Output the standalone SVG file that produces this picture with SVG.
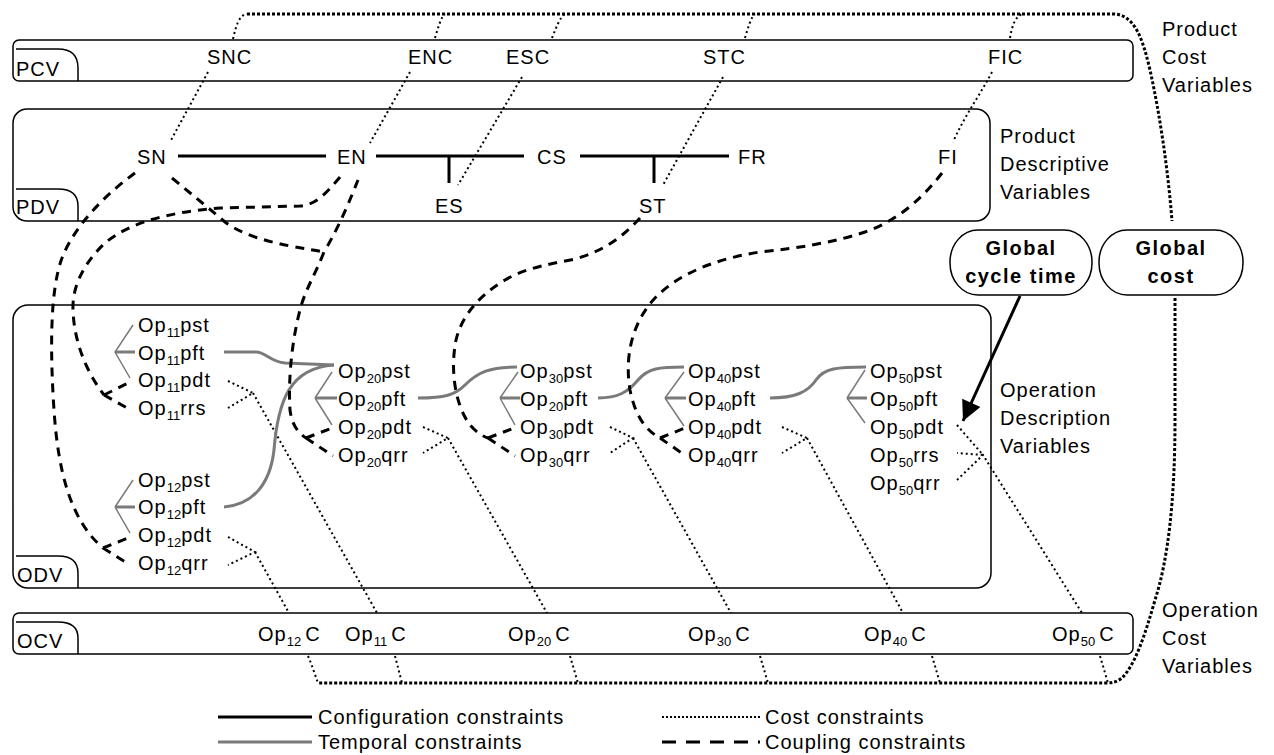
<svg xmlns="http://www.w3.org/2000/svg" width="1274" height="755" viewBox="0 0 1274 755">
<style>
.box{fill:none;stroke:#000;stroke-width:1.5}
.t{font-family:"Liberation Sans",Arial,sans-serif;font-size:20px;letter-spacing:1px;fill:#000}
.sub{font-size:13px;letter-spacing:0}
.b{font-weight:bold;letter-spacing:1.5px;text-anchor:middle}
.cfg{stroke:#000;stroke-width:3;fill:none}
.tmp{stroke:#7a7a7a;stroke-width:3;fill:none}
.tmpf{stroke:#7a7a7a;stroke-width:1.5;fill:none}
.cost{stroke:#000;stroke-width:2;stroke-dasharray:2 3;fill:none}
.bus{stroke:#000;stroke-width:3;stroke-dasharray:3 2;fill:none}
.cpl{stroke:#000;stroke-width:3;stroke-dasharray:9 7;fill:none}
.arw{stroke:#000;stroke-width:3;fill:none}
</style>
<defs>
<marker id="ah" viewBox="0 0 10 10" refX="10" refY="5" markerWidth="22" markerHeight="20" markerUnits="userSpaceOnUse" orient="auto"><path d="M0,0 L10,5 L0,10 z" fill="#000"/></marker>
</defs>
<rect width="1274" height="755" fill="#fff"/>

<g id="PCV"><rect class="box" x="13" y="40" width="1120" height="41" rx="6"/><path class="box" d="M16,49 H58 Q78,49 78,68 V81"/><text class="t" x="16" y="76">PCV</text></g>
<g id="PDV"><rect class="box" x="13" y="109" width="977" height="112" rx="14"/><path class="box" d="M16,189 H58 Q78,189 78,206 V221"/><text class="t" x="16" y="214">PDV</text></g>
<g id="ODV"><rect class="box" x="13" y="305" width="978" height="283" rx="15"/><path class="box" d="M16,556 H58 Q78,556 78,573 V588"/><text class="t" x="17" y="582">ODV</text></g>
<g id="OCV"><rect class="box" x="13" y="613" width="1120" height="41" rx="6"/><path class="box" d="M16,622 H58 Q78,622 78,638 V654"/><text class="t" x="17" y="648">OCV</text></g>

<g id="lbl-pcv"><text class="t" x="1162" y="36">Product</text><text class="t" x="1162" y="64">Cost</text><text class="t" x="1162" y="92">Variables</text></g>
<g id="lbl-pdv"><text class="t" x="1000" y="143">Product</text><text class="t" x="1000" y="171">Descriptive</text><text class="t" x="1000" y="199">Variables</text></g>
<g id="lbl-odv"><text class="t" x="1000" y="397">Operation</text><text class="t" x="1000" y="425">Description</text><text class="t" x="1000" y="453">Variables</text></g>
<g id="lbl-ocv"><text class="t" x="1162" y="617">Operation</text><text class="t" x="1162" y="645">Cost</text><text class="t" x="1162" y="673">Variables</text></g>

<g id="SNC"><text class="t" x="207" y="64">SNC</text></g>
<g id="ENC"><text class="t" x="408" y="64">ENC</text></g>
<g id="ESC"><text class="t" x="506" y="64">ESC</text></g>
<g id="STC"><text class="t" x="703" y="64">STC</text></g>
<g id="FIC"><text class="t" x="988" y="64">FIC</text></g>

<g id="SN"><text class="t" x="137" y="164">SN</text></g>
<g id="EN"><text class="t" x="337" y="164">EN</text></g>
<g id="CS"><text class="t" x="537" y="164">CS</text></g>
<g id="FR"><text class="t" x="738" y="164">FR</text></g>
<g id="FI"><text class="t" x="938" y="164">FI</text></g>
<g id="ES"><text class="t" x="435" y="213">ES</text></g>
<g id="ST"><text class="t" x="639" y="213">ST</text></g>

<g id="GCT"><rect class="box" x="950" y="230" width="142" height="65" rx="28" ry="32"/><text class="t b" x="1021" y="255">Global</text><text class="t b" x="1021" y="283">cycle time</text></g>
<g id="GC"><rect class="box" x="1099" y="230" width="144" height="65" rx="28" ry="32"/><text class="t b" x="1171" y="255">Global</text><text class="t b" x="1171" y="283">cost</text></g>

<g id="Op11">
<text class="t" x="138" y="332">Op<tspan class="sub" dy="5">11</tspan><tspan dy="-5">pst</tspan></text>
<text class="t" x="138" y="360">Op<tspan class="sub" dy="5">11</tspan><tspan dy="-5">pft</tspan></text>
<text class="t" x="138" y="387">Op<tspan class="sub" dy="5">11</tspan><tspan dy="-5">pdt</tspan></text>
<text class="t" x="138" y="415">Op<tspan class="sub" dy="5">11</tspan><tspan dy="-5">rrs</tspan></text>
</g>
<g id="Op12">
<text class="t" x="138" y="487">Op<tspan class="sub" dy="5">12</tspan><tspan dy="-5">pst</tspan></text>
<text class="t" x="138" y="514">Op<tspan class="sub" dy="5">12</tspan><tspan dy="-5">pft</tspan></text>
<text class="t" x="138" y="542">Op<tspan class="sub" dy="5">12</tspan><tspan dy="-5">pdt</tspan></text>
<text class="t" x="138" y="570">Op<tspan class="sub" dy="5">12</tspan><tspan dy="-5">qrr</tspan></text>
</g>
<g id="Op20">
<text class="t" x="338" y="378">Op<tspan class="sub" dy="5">20</tspan><tspan dy="-5">pst</tspan></text>
<text class="t" x="338" y="406">Op<tspan class="sub" dy="5">20</tspan><tspan dy="-5">pft</tspan></text>
<text class="t" x="338" y="434">Op<tspan class="sub" dy="5">20</tspan><tspan dy="-5">pdt</tspan></text>
<text class="t" x="338" y="462">Op<tspan class="sub" dy="5">20</tspan><tspan dy="-5">qrr</tspan></text>
</g>
<g id="Op30">
<text class="t" x="520" y="378">Op<tspan class="sub" dy="5">30</tspan><tspan dy="-5">pst</tspan></text>
<text class="t" x="520" y="406">Op<tspan class="sub" dy="5">20</tspan><tspan dy="-5">pft</tspan></text>
<text class="t" x="520" y="434">Op<tspan class="sub" dy="5">30</tspan><tspan dy="-5">pdt</tspan></text>
<text class="t" x="520" y="462">Op<tspan class="sub" dy="5">30</tspan><tspan dy="-5">qrr</tspan></text>
</g>
<g id="Op40">
<text class="t" x="688" y="378">Op<tspan class="sub" dy="5">40</tspan><tspan dy="-5">pst</tspan></text>
<text class="t" x="688" y="406">Op<tspan class="sub" dy="5">40</tspan><tspan dy="-5">pft</tspan></text>
<text class="t" x="688" y="434">Op<tspan class="sub" dy="5">40</tspan><tspan dy="-5">pdt</tspan></text>
<text class="t" x="688" y="462">Op<tspan class="sub" dy="5">40</tspan><tspan dy="-5">qrr</tspan></text>
</g>
<g id="Op50">
<text class="t" x="870" y="378">Op<tspan class="sub" dy="5">50</tspan><tspan dy="-5">pst</tspan></text>
<text class="t" x="870" y="406">Op<tspan class="sub" dy="5">50</tspan><tspan dy="-5">pft</tspan></text>
<text class="t" x="870" y="434">Op<tspan class="sub" dy="5">50</tspan><tspan dy="-5">pdt</tspan></text>
<text class="t" x="870" y="462">Op<tspan class="sub" dy="5">50</tspan><tspan dy="-5">rrs</tspan></text>
<text class="t" x="870" y="490">Op<tspan class="sub" dy="5">50</tspan><tspan dy="-5">qrr</tspan></text>
</g>

<g id="OpC">
<text class="t" x="258" y="641">Op<tspan class="sub" dy="5">12</tspan><tspan dy="-5" dx="4">C</tspan></text>
<text class="t" x="345" y="641">Op<tspan class="sub" dy="5">11</tspan><tspan dy="-5" dx="4">C</tspan></text>
<text class="t" x="508" y="641">Op<tspan class="sub" dy="5">20</tspan><tspan dy="-5" dx="4">C</tspan></text>
<text class="t" x="688" y="641">Op<tspan class="sub" dy="5">30</tspan><tspan dy="-5" dx="4">C</tspan></text>
<text class="t" x="864" y="641">Op<tspan class="sub" dy="5">40</tspan><tspan dy="-5" dx="4">C</tspan></text>
<text class="t" x="1052" y="641">Op<tspan class="sub" dy="5">50</tspan><tspan dy="-5" dx="4">C</tspan></text>
</g>

<g id="connectors">
<path class="cfg" d="M178,156 H326 M376,156 H524 M449,156 V183 M580,156 H729 M654,156 V183"/>
<path class="bus" d="M247,14 H1113 C1135,14 1143,40 1150,70 C1160,115 1168,170 1172,221"/>
<path class="bus" d="M1175,298 V420 C1175,500 1168,560 1155,600 C1145,635 1135,665 1122,678 C1117,682 1112,683 1105,683 H318"/>
<path class="cost" d="M233,39 C236,26 239,15 247,14 M435,38 C438,28 441,17 445,14 M552,38 C556,28 560,17 565,14 M745,38 C748,28 751,17 755,14 M1010,38 C1012,26 1015,17 1022,14"/>
<path class="cost" d="M208,72 L170,142 M410,72 L370,143 M522,77 L458,185 M723,77 L663,185 M992,72 C980,95 965,115 953,142"/>
<path class="cost" d="M228,381 L253,393 L228,408 M253,393 L377,613"/>
<path class="cost" d="M228,537 L255,552 L228,565 M255,552 L289,613"/>
<path class="cost" d="M423,427 L448,438 L423,453 M448,438 L547,613"/>
<path class="cost" d="M610,427 L633,438 L610,453 M633,438 L731,613"/>
<path class="cost" d="M782,427 L807,438 L782,453 M807,438 L903,613"/>
<path class="cost" d="M957,425 L983,455 L957,453 M957,480 L983,455 L1082,613"/>
<path class="cost" d="M308,656 C312,665 315,675 318,683 M395,656 L402,683 M570,656 L578,683 M760,656 L768,683 M932,656 L940,683 M1100,656 L1108,683"/>
<path class="tmp" d="M224,352 L256,352 C266,352 270,362 285,363 L334,365"/>
<path class="tmp" d="M224,507 C252,505 270,485 274,450 C278,400 290,368 334,365"/>
<path class="tmp" d="M418,398 C445,398 455,395 465,385 C478,372 490,367 517,367"/>
<path class="tmp" d="M598,398 C618,398 628,392 638,380 C648,368 660,367 684,367"/>
<path class="tmp" d="M770,398 C795,398 808,392 816,380 C824,368 838,367 866,367"/>
<path class="tmpf" d="M133,325 L115,352 L130,378 M315,398 L332,372 M315,398 L332,425 M500,398 L518,372 M500,398 L515,425 M665,398 L684,372 M665,398 L684,426 M847,398 L865,370 M847,398 L865,423 M115,507 L133,480 M115,507 L130,533"/>
<path class="tmp" d="M115,352 H135 M115,507 H135 M315,398 H337 M500,398 H520 M665,398 H686 M847,398 H867"/>
<path class="cpl" d="M135,173 C105,195 75,225 62,258 C50,290 50,350 54,410 C58,470 70,520 103,548 M103,548 L128,538 M103,548 L130,565"/>
<path class="cpl" d="M340,177 C325,195 315,205 300,206 L220,208 C170,212 130,222 105,243 C85,262 72,285 73,310 C74,340 85,370 104,395 M104,395 L128,383 M104,395 L129,409"/>
<path class="cpl" d="M172,178 C190,193 205,205 225,222 C240,233 260,240 290,246 C305,249 315,250 324,252 M358,180 C350,200 340,225 324,252 C315,275 305,290 300,310 C292,340 288,380 290,410 C292,425 298,433 306,438 M306,438 L332,428 M306,438 L333,456"/>
<path class="cpl" d="M640,218 C620,240 600,252 575,259 C550,264 525,268 505,280 C480,295 462,315 456,340 C450,370 455,405 470,425 C476,432 482,436 488,438 M488,438 L514,428 M488,438 L515,456"/>
<path class="cpl" d="M942,173 C925,195 900,220 865,232 C835,242 800,248 760,252 C720,258 680,272 655,298 C630,325 625,360 630,390 C635,415 645,430 660,438 M660,438 L685,428 M660,438 L686,456"/>
<path class="arw" d="M1020,296 L963,421" marker-end="url(#ah)"/>
</g>

<g id="legend">
<path class="cfg" d="M218,717 H312"/><text class="t" x="318" y="724">Configuration constraints</text>
<path class="tmp" d="M218,742 H312"/><text class="t" x="318" y="749">Temporal constraints</text>
<path class="cost" d="M662,717 H760" style="stroke-dasharray:2 2"/><text class="t" x="765" y="724">Cost constraints</text>
<path class="cpl" d="M662,742 H760" style="stroke-dasharray:14 10"/><text class="t" x="765" y="749">Coupling constraints</text>
</g>
</svg>
